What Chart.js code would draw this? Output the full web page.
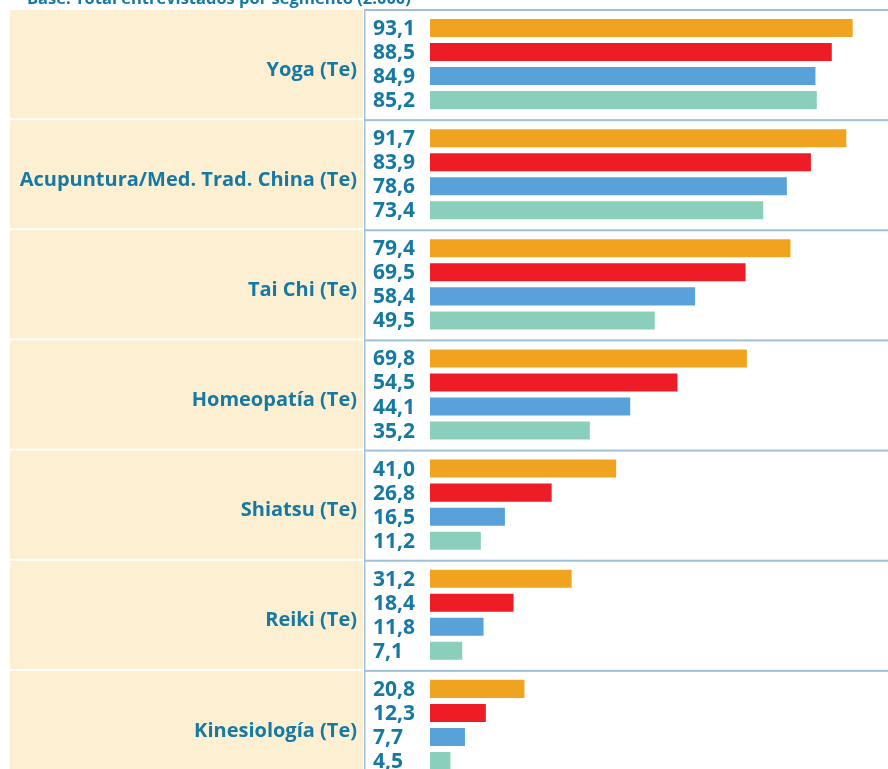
<!DOCTYPE html>
<html>
<head>
<meta charset="utf-8">
<script src="https://cdn.jsdelivr.net/npm/chart.js@4"></script>
<style>
  html, body { margin: 0; padding: 0; background: #fff; overflow: hidden; }
  #wrap { position: relative; width: 888px; height: 780px; }
</style>
</head>
<body>
<div id="wrap"><canvas id="myChart"></canvas></div>
<script>
const title = 'Base: Total entrevistados por segmento (2.000)';
const categories = ['Yoga (Te)', 'Acupuntura/Med. Trad. China (Te)', 'Tai Chi (Te)', 'Homeopatía (Te)', 'Shiatsu (Te)', 'Reiki (Te)', 'Kinesiología (Te)'];
const serie1 = [93.1, 91.7, 79.4, 69.8, 41.0, 31.2, 20.8];
const serie2 = [88.5, 83.9, 69.5, 54.5, 26.8, 18.4, 12.3];
const serie3 = [84.9, 78.6, 58.4, 44.1, 16.5, 11.8, 7.7];
const serie4 = [85.2, 73.4, 49.5, 35.2, 11.2, 7.1, 4.5];
const colors = ['#f0a31f', '#ee1c25', '#58a2d9', '#8acfbc'];

const teal = '#1679a3';
const lineColor = '#9fc1d6';
const fam = '"Open Sans"';

// cream label panel + separators go under the axis labels, value labels on top
const panel = {
    id: 'panel',
    beforeDraw(chart) {
        const ctx = chart.ctx;
        const y = chart.scales.y;
        const half = (y.getPixelForValue(1) - y.getPixelForValue(0)) / 2;
        ctx.save();
        categories.forEach((c, i) => {
            const yc = y.getPixelForValue(i);
            ctx.fillStyle = '#fdf0d2';
            ctx.fillRect(10, yc - half + 1, 353, half * 2 - 2);
            ctx.fillStyle = lineColor;
            ctx.fillRect(365, yc - half, 523, 2);
        });
        ctx.fillRect(364, y.getPixelForValue(0) - half, 1.5, chart.height);
        ctx.fillStyle = teal;
        ctx.font = 'bold 16.5px ' + fam;
        ctx.textAlign = 'left';
        ctx.textBaseline = 'alphabetic';
        ctx.fillText(title, 27, 4);
        ctx.restore();
    },
    afterDatasetsDraw(chart) {
        const ctx = chart.ctx;
        ctx.save();
        ctx.fillStyle = teal;
        ctx.font = 'bold 21px ' + fam;
        ctx.textAlign = 'left';
        ctx.textBaseline = 'middle';
        chart.data.datasets.forEach((ds, d) => {
            chart.getDatasetMeta(d).data.forEach((bar, i) => {
                ctx.fillText(ds.data[i].toFixed(1).replace('.', ','), 373, bar.y + 1);
            });
        });
        ctx.restore();
    }
};

new Chart(document.getElementById('myChart').getContext('2d'), {
    type: 'bar',
    data: {
        labels: categories,
        datasets: [serie1, serie2, serie3, serie4].map((s, i) => ({
            data: s,
            backgroundColor: colors[i],
            borderWidth: 0,
            categoryPercentage: 0.873,
            barPercentage: 0.75
        }))
    },
    options: {
        indexAxis: 'y',
        responsive: true,
        maintainAspectRatio: false,
        animation: false,
        layout: { padding: { top: 9, right: 4, bottom: 0, left: 0 } },
        plugins: { legend: { display: false }, tooltip: { enabled: false } },
        scales: {
            x: { display: false, min: 0, max: 100 },
            y: {
                afterFit(scale) {
                    scale.width = 430;
                    scale.paddingTop = 0;
                    scale.paddingBottom = 0;
                },
                grid: { display: false, drawTicks: false },
                border: { display: false },
                ticks: {
                    color: teal,
                    font: { family: fam, weight: 'bold', size: 20 },
                    padding: 73,
                    labelOffset: 6
                }
            }
        }
    },
    plugins: [panel]
});
</script>
</body>
</html>
